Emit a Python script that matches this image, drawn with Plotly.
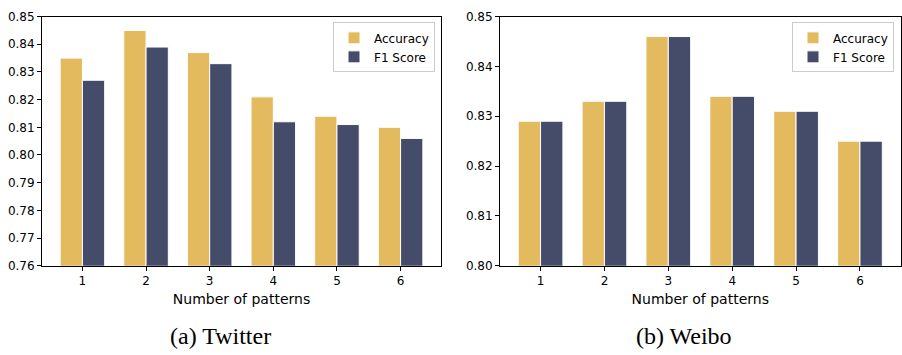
import plotly.graph_objects as go

patterns = [1, 2, 3, 4, 5, 6]
tick_labels = ["1", "2", "3", "4", "5", "6"]

twitter_acc = [0.835, 0.845, 0.837, 0.821, 0.814, 0.810]
twitter_f1 = [0.827, 0.839, 0.833, 0.812, 0.811, 0.806]
weibo_acc = [0.829, 0.833, 0.846, 0.834, 0.831, 0.825]
weibo_f1 = [0.829, 0.833, 0.846, 0.834, 0.831, 0.825]

twitter_yticks = [0.76, 0.77, 0.78, 0.79, 0.80, 0.81, 0.82, 0.83, 0.84, 0.85]
weibo_yticks = [0.80, 0.81, 0.82, 0.83, 0.84, 0.85]

ACC_COLOR = "#E4BA5F"
F1_COLOR = "#454C69"
BW = 0.35

fig = go.Figure()

def add_pair(acc, f1, xa, ya, legend):
    fig.add_trace(go.Bar(x=patterns, y=acc, width=BW, offset=-BW, name="Accuracy",
                         marker=dict(color=ACC_COLOR, line=dict(color="white", width=1)),
                         xaxis=xa, yaxis=ya, legend=legend, base=0))
    fig.add_trace(go.Bar(x=patterns, y=f1, width=BW, offset=0, name="F1 Score",
                         marker=dict(color=F1_COLOR, line=dict(color="white", width=1)),
                         xaxis=xa, yaxis=ya, legend=legend, base=0))

add_pair(twitter_acc, twitter_f1, "x", "y", "legend")
add_pair(weibo_acc, weibo_f1, "x2", "y2", "legend2")

tickfont = dict(family="DejaVu Sans", size=12, color="black")
common_x = dict(range=[0.365, 6.635], tickmode="array", tickvals=patterns, ticktext=tick_labels,
                ticks="outside", ticklen=4, tickcolor="black", showline=True, linecolor="black",
                linewidth=1, mirror=True, showgrid=False, zeroline=False, tickfont=tickfont,
                title=dict(text="Number of patterns", font=dict(family="DejaVu Sans", size=14, color="black"),
                           standoff=7))
common_y = dict(ticks="outside", ticklen=4, tickcolor="black", showline=True, linecolor="black",
                linewidth=1, mirror=True, showgrid=False, zeroline=False, tickfont=tickfont,
                tickformat=".2f", tickmode="array")

legend_style = dict(xanchor="right", yanchor="top", bordercolor="#cccccc", borderwidth=1,
                    bgcolor="rgba(255,255,255,0.8)", tracegroupgap=0,
                    font=dict(family="DejaVu Sans", size=12, color="black"))

yd = [1 - 269.3 / 355, 1 - 10 / 355]
fig.update_layout(
    width=902, height=355, margin=dict(l=0, r=0, t=0, b=0),
    paper_bgcolor="white", plot_bgcolor="white", barmode="overlay",
    xaxis=dict(domain=[42 / 902, 441 / 902], anchor="y", **common_x),
    yaxis=dict(domain=yd, anchor="x", range=[0.76, 0.85], tickvals=twitter_yticks, **common_y),
    xaxis2=dict(domain=[500 / 902, 900.5 / 902], anchor="y2", **common_x),
    yaxis2=dict(domain=yd, anchor="x2", range=[0.80, 0.85], tickvals=weibo_yticks, **common_y),
    legend=dict(x=435 / 902, y=1 - 16 / 355, **legend_style),
    legend2=dict(x=894 / 902, y=1 - 16 / 355, **legend_style),
    annotations=[
        dict(text="(a) Twitter", x=220 / 902, y=1 - 343 / 355, xref="paper", yref="paper",
             showarrow=False, xanchor="center", yanchor="middle",
             font=dict(family="Liberation Serif", size=24, color="black")),
        dict(text="(b) Weibo", x=683.5 / 902, y=1 - 343 / 355, xref="paper", yref="paper",
             showarrow=False, xanchor="center", yanchor="middle",
             font=dict(family="Liberation Serif", size=24, color="black")),
    ],
)

fig.write_html("out.html", config={"displayModeBar": False},
               post_script="document.body.style.margin='0';")
